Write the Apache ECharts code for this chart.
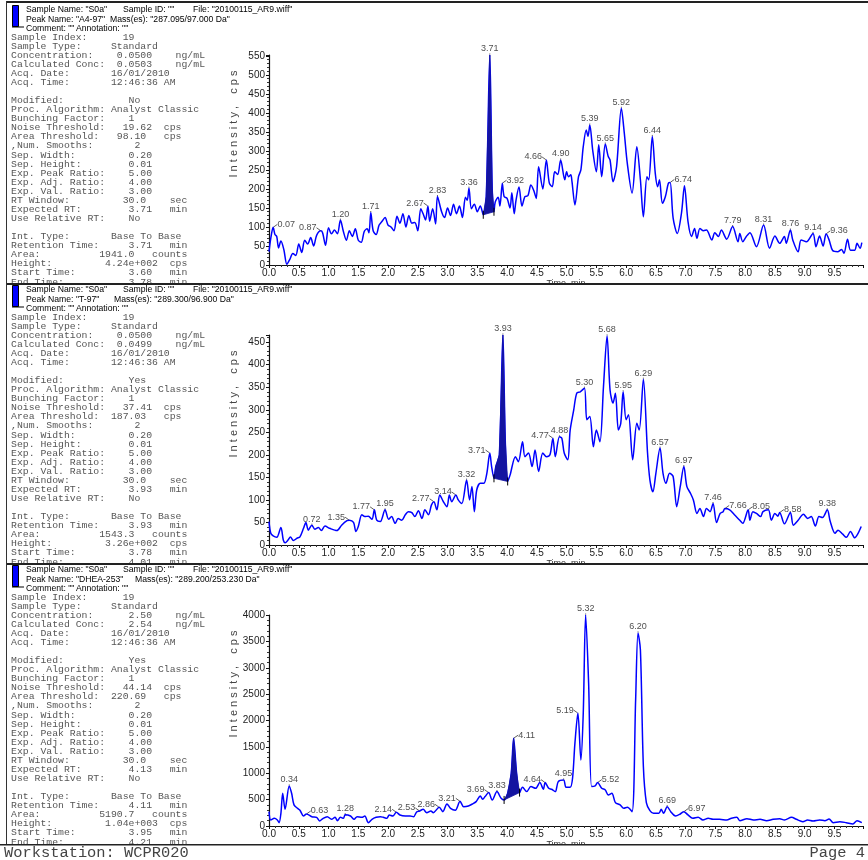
<!DOCTYPE html>
<html>
<head>
<meta charset="utf-8">
<script src="https://cdn.jsdelivr.net/npm/echarts@6/dist/echarts.min.js"></script>
<style>
  html, body { margin: 0; padding: 0; background: #fff; }
  #report { width: 868px; height: 860px; }
</style>
</head>
<body>
<div id="report"></div>
<script>
// ---- A4-97 (287.095/97.000 Da) ----
const a497Time = [0.00,0.03,0.07,0.10,0.13,0.16,0.20,0.25,0.30,0.35,0.40,0.45,0.50,0.55,0.60,0.65,0.70,0.75,0.80,0.87,0.90,0.95,1.00,1.05,1.10,1.15,1.20,1.25,1.30,1.35,1.40,1.45,1.50,1.55,1.60,1.65,1.68,1.71,1.75,1.80,1.85,1.90,1.95,2.00,2.05,2.10,2.15,2.20,2.25,2.30,2.35,2.40,2.45,2.50,2.55,2.60,2.63,2.67,2.70,2.75,2.80,2.83,2.90,2.95,3.00,3.05,3.10,3.15,3.20,3.25,3.30,3.33,3.36,3.40,3.45,3.50,3.55,3.60,3.65,3.71,3.75,3.78,3.80,3.85,3.88,3.92,3.95,4.00,4.05,4.08,4.12,4.15,4.20,4.25,4.30,4.35,4.40,4.45,4.49,4.53,4.60,4.66,4.71,4.76,4.80,4.85,4.90,4.97,5.00,5.03,5.07,5.09,5.14,5.20,5.24,5.28,5.33,5.36,5.39,5.44,5.50,5.54,5.59,5.65,5.70,5.73,5.78,5.84,5.92,5.97,6.02,6.10,6.18,6.24,6.29,6.35,6.38,6.44,6.49,6.53,6.56,6.61,6.66,6.71,6.74,6.79,6.86,6.93,6.98,7.04,7.10,7.15,7.19,7.24,7.30,7.35,7.44,7.49,7.55,7.60,7.69,7.79,7.88,7.91,7.96,8.02,8.08,8.19,8.31,8.41,8.50,8.58,8.66,8.69,8.76,8.80,8.89,8.94,9.03,9.14,9.19,9.25,9.31,9.36,9.41,9.47,9.56,9.62,9.66,9.72,9.77,9.84,9.88,9.93,9.96];
const a497Cps = [35,70,99,80,75,45,63,40,2,15,30,25,55,33,65,55,72,50,78,90,85,52,98,82,92,82,118,88,65,90,75,95,65,60,88,95,85,138,90,80,105,115,125,105,100,90,128,110,135,100,130,110,112,90,148,130,118,155,115,148,108,180,140,125,150,130,160,135,155,125,178,170,202,148,160,140,155,132,180,552,200,140,165,178,155,215,180,175,150,190,135,170,205,155,180,182,210,195,175,258,200,276,215,206,245,238,276,224,245,232,237,220,158,232,250,311,355,338,368,300,245,316,232,318,285,276,219,259,412,346,267,189,311,224,127,232,224,338,241,206,224,162,180,215,217,123,83,136,208,114,75,96,70,96,90,92,66,85,75,92,68,101,61,83,61,75,85,48,105,44,76,57,75,57,92,66,35,66,61,83,48,76,50,82,66,38,35,41,31,68,39,39,57,44,59];
const a497Peaks = [0.07,0.87,1.20,1.71,2.67,2.83,3.36,3.71,3.92,4.66,4.90,5.39,5.65,5.92,6.44,6.74,7.79,8.31,8.76,9.14,9.36];
const a497Window = [3.60, 3.78];

// ---- T-97 (289.300/96.900 Da) ----
const t97Time = [0.00,0.03,0.07,0.13,0.20,0.24,0.27,0.32,0.36,0.41,0.47,0.52,0.58,0.62,0.66,0.72,0.77,0.83,0.88,0.94,1.02,1.14,1.22,1.31,1.35,1.42,1.46,1.50,1.56,1.61,1.67,1.73,1.77,1.81,1.87,1.95,2.01,2.06,2.12,2.17,2.23,2.29,2.34,2.40,2.45,2.51,2.57,2.62,2.68,2.73,2.77,2.82,2.87,2.93,2.99,3.03,3.07,3.14,3.18,3.24,3.32,3.37,3.41,3.45,3.49,3.55,3.61,3.66,3.71,3.74,3.78,3.81,3.87,3.93,3.97,4.01,4.05,4.14,4.19,4.26,4.30,4.36,4.42,4.47,4.53,4.60,4.66,4.72,4.77,4.81,4.88,4.92,4.96,5.02,5.06,5.12,5.17,5.23,5.30,5.34,5.39,5.45,5.50,5.56,5.62,5.68,5.73,5.78,5.82,5.87,5.91,5.95,6.00,6.04,6.11,6.18,6.22,6.29,6.36,6.40,6.45,6.50,6.57,6.62,6.67,6.73,6.79,6.85,6.91,6.97,7.02,7.08,7.13,7.19,7.24,7.30,7.35,7.41,7.46,7.52,7.58,7.63,7.66,7.74,7.82,7.91,7.96,8.05,8.08,8.13,8.19,8.26,8.30,8.39,8.44,8.50,8.55,8.58,8.66,8.76,8.81,8.89,8.98,9.05,9.11,9.18,9.24,9.30,9.38,9.43,9.51,9.56,9.64,9.70,9.77,9.84,9.89,9.95];
const t97Cps = [52,26,20,17,39,11,5,11,18,10,15,18,37,50,33,44,35,39,32,42,37,32,44,54,55,50,30,41,67,63,64,57,78,55,52,78,57,63,48,59,55,67,74,72,63,76,59,78,67,89,96,78,111,96,85,111,96,111,100,92,144,100,130,74,122,137,137,159,204,174,148,174,200,466,230,141,155,196,185,229,196,204,174,211,163,204,196,200,237,196,240,237,204,189,255,300,337,340,348,278,285,218,255,229,352,464,344,315,337,255,270,340,278,289,189,270,255,368,204,144,118,159,215,159,137,159,152,85,130,174,130,115,100,70,81,63,81,74,92,50,70,74,81,78,67,55,48,78,55,74,70,63,74,78,55,70,64,72,47,72,44,55,68,59,63,42,63,61,78,52,26,33,24,17,30,16,24,41];
const t97Peaks = [0.72,1.35,1.77,1.95,2.77,3.14,3.32,3.71,3.93,4.77,4.88,5.30,5.68,5.95,6.29,6.57,6.97,7.46,7.66,8.05,8.58,9.38];
const t97Window = [3.78, 4.01];

// ---- DHEA-253 (289.200/253.230 Da) ----
const dheaTime = [0.00,0.03,0.09,0.14,0.17,0.20,0.23,0.27,0.34,0.38,0.42,0.48,0.52,0.58,0.63,0.72,0.80,0.85,0.91,0.98,1.05,1.11,1.15,1.20,1.25,1.28,1.37,1.43,1.48,1.56,1.61,1.67,1.73,1.80,1.87,1.92,1.98,2.02,2.08,2.14,2.20,2.29,2.37,2.43,2.48,2.53,2.59,2.65,2.72,2.76,2.86,2.92,2.99,3.05,3.13,3.21,3.27,3.35,3.42,3.48,3.55,3.59,3.63,3.69,3.75,3.83,3.90,3.95,4.01,4.07,4.11,4.16,4.21,4.26,4.33,4.40,4.48,4.55,4.61,4.64,4.70,4.75,4.81,4.86,4.95,4.99,5.06,5.10,5.14,5.19,5.24,5.28,5.32,5.37,5.42,5.48,5.52,5.59,5.65,5.70,5.76,5.82,5.90,5.96,6.02,6.10,6.16,6.20,6.24,6.29,6.34,6.40,6.46,6.55,6.59,6.63,6.69,6.75,6.83,6.91,6.97,7.04,7.12,7.21,7.29,7.38,7.46,7.57,7.69,7.77,7.86,7.91,8.03,8.14,8.25,8.36,8.47,8.58,8.66,8.78,8.86,8.97,9.05,9.14,9.25,9.34,9.41,9.48,9.59,9.70,9.81,9.88,9.96];
const dheaCps = [272,114,146,114,63,240,620,316,760,620,400,335,300,190,228,177,165,95,146,177,127,165,101,165,146,215,190,127,177,165,190,63,127,165,177,165,146,209,190,260,209,190,190,177,266,285,316,253,285,253,354,272,418,335,300,468,367,380,418,462,570,506,557,633,494,652,525,494,620,1000,1665,1000,633,734,652,747,715,823,696,823,715,696,652,842,873,734,734,905,1570,2140,1253,2140,4000,2710,747,760,823,715,684,589,620,443,399,335,354,272,2393,3660,3340,1127,443,291,240,240,316,240,367,272,190,228,272,209,146,165,114,146,127,127,114,146,165,101,139,114,127,101,127,139,114,165,127,82,114,95,114,101,133,63,82,63,38,101,63];
const dheaPeaks = [0.34,0.63,1.28,2.14,2.53,2.86,3.21,3.69,3.83,4.11,4.64,4.95,5.19,5.32,5.52,6.20,6.69,6.97];
const dheaWindow = [3.95, 4.21];

// Axis ranges and tick spacing
const timeMax = 9.98;
const yMax = [552, 466, 4000];
const yStep = [50, 50, 500];

// Peak labels drawn beside their apex with a short leader
const leftTags = [[0.87, 2.67, 4.66], [1.35, 1.77, 2.77, 3.14, 3.71, 4.77], [2.14, 2.53, 2.86, 3.21, 3.69, 4.64, 5.19]];
const rightTags = [[0.07, 3.92, 6.74, 9.36], [7.66, 8.05, 8.58], [0.63, 4.11, 5.52, 6.97]];

// Report text blocks
const headers = [
  { peak: 'Peak Name: "A4-97"', mass: 'Mass(es): "287.095/97.000 Da"', massX: 110 },
  { peak: 'Peak Name: "T-97"', mass: 'Mass(es): "289.300/96.900 Da"', massX: 114 },
  { peak: 'Peak Name: "DHEA-253"', mass: 'Mass(es): "289.200/253.230 Da"', massX: 135 }
];
const details = [
  { conc: ['0.0500', '0.0503'], concCol: 18, modified: 'No', noise: '19.62', area: ['98.10', 18],
    expRT: '3.71', rt: '3.71', areaCounts: '1941.0', height: '4.24e+002', start: '3.60', end: '3.78' },
  { conc: ['0.0500', '0.0499'], concCol: 18, modified: 'Yes', noise: '37.41', area: ['187.03', 17],
    expRT: '3.93', rt: '3.93', areaCounts: '1543.3', height: '3.26e+002', start: '3.78', end: '4.01' },
  { conc: ['2.50', '2.54'], concCol: 20, modified: 'Yes', noise: '44.14', area: ['220.69', 17],
    expRT: '4.13', rt: '4.11', areaCounts: '5190.7', height: '1.04e+003', start: '3.95', end: '4.21' }
];

function row(label, parts) {
  let s = label;
  (parts || []).forEach(([col, txt]) => {
    while (s.length < col) s += ' ';
    s += txt;
  });
  return s;
}

function bodyText(d) {
  return [
    row('Sample Index:', [[19, '19']]),
    row('Sample Type:', [[17, 'Standard']]),
    row('Concentration:', [[d.concCol, d.conc[0]], [28, 'ng/mL']]),
    row('Calculated Conc:', [[d.concCol, d.conc[1]], [28, 'ng/mL']]),
    row('Acq. Date:', [[17, '16/01/2010']]),
    row('Acq. Time:', [[17, '12:46:36 AM']]),
    '',
    row('Modified:', [[20, d.modified]]),
    row('Proc. Algorithm:', [[17, 'Analyst Classic']]),
    row('Bunching Factor:', [[20, '1']]),
    row('Noise Threshold:', [[19, d.noise], [26, 'cps']]),
    row('Area Threshold:', [[d.area[1], d.area[0]], [26, 'cps']]),
    row(',Num. Smooths:', [[21, '2']]),
    row('Sep. Width:', [[20, '0.20']]),
    row('Sep. Height:', [[20, '0.01']]),
    row('Exp. Peak Ratio:', [[20, '5.00']]),
    row('Exp. Adj. Ratio:', [[20, '4.00']]),
    row('Exp. Val. Ratio:', [[20, '3.00']]),
    row('RT Window:', [[19, '30.0'], [27, 'sec']]),
    row('Expected RT:', [[20, d.expRT], [27, 'min']]),
    row('Use Relative RT:', [[20, 'No']]),
    '',
    row('Int. Type:', [[17, 'Base To Base']]),
    row('Retention Time:', [[20, d.rt], [27, 'min']]),
    row('Area:', [[15, d.areaCounts], [24, 'counts']]),
    row('Height:', [[16, d.height], [27, 'cps']]),
    row('Start Time:', [[20, d.start], [27, 'min']]),
    row('End Time:', [[20, d.end], [27, 'min']])
  ].join('\n');
}

const traces = [
  { time: a497Time, cps: a497Cps, peaks: a497Peaks, win: a497Window },
  { time: t97Time, cps: t97Cps, peaks: t97Peaks, win: t97Window },
  { time: dheaTime, cps: dheaCps, peaks: dheaPeaks, win: dheaWindow }
];

const PANEL_H = 280;
const gridTop = [55, 335, 615];
const gridHeight = [210, 210, 211];
const SANS = '"Liberation Sans", Arial, sans-serif';
const MONO = '"Liberation Mono", "Courier New", monospace';

const grids = [], xAxes = [], yAxes = [], series = [], graphics = [];

traces.forEach((tr, i) => {
  const top = i * PANEL_H;
  grids.push({ left: 269, width: 594, top: gridTop[i], height: gridHeight[i], outerBoundsMode: 'none', containLabel: false });

  xAxes.push({
    type: 'value', gridIndex: i, min: 0, max: timeMax, interval: 0.5,
    axisLine: { onZero: false, lineStyle: { color: '#111', width: 1 } },
    axisTick: { length: 3, lineStyle: { color: '#111' } },
    minorTick: { show: true, splitNumber: 5, length: 2, lineStyle: { color: '#333' } },
    splitLine: { show: false },
    axisLabel: {
      margin: 3, fontSize: 10, color: '#222', fontFamily: SANS,
      formatter: v => Math.abs(v * 2 - Math.round(v * 2)) < 1e-6 ? v.toFixed(1) : ''
    },
    name: 'Time, min', nameLocation: 'middle', nameGap: 13,
    nameTextStyle: { fontSize: 9, color: '#333', fontFamily: SANS }
  });

  yAxes.push({
    type: 'value', gridIndex: i, min: 0, max: yMax[i], interval: yStep[i],
    axisLine: { show: true, lineStyle: { color: '#111', width: 1.2 } },
    axisTick: { show: true, length: 3, lineStyle: { color: '#111' } },
    minorTick: { show: true, splitNumber: 5, length: 2, lineStyle: { color: '#333' } },
    splitLine: { show: false },
    axisLabel: {
      margin: 4, fontSize: 10, color: '#222', fontFamily: SANS,
      formatter: v => (v % yStep[i] === 0 ? String(v) : '')
    }
  });

  // chromatogram trace
  const pts = tr.time.map((t, k) => [t, tr.cps[k]]);
  series.push({
    type: 'line', xAxisIndex: i, yAxisIndex: i, data: pts, symbol: 'none', smooth: 0.3,
    lineStyle: { color: '#0000ff', width: 1.5 }, z: 3, silent: true
  });

  // integrated peak region between start and end times, closed by its baseline
  const win = tr.win;
  const peakPts = pts.filter(p => p[0] >= win[0] - 1e-9 && p[0] <= win[1] + 1e-9);
  series.push({
    type: 'custom', xAxisIndex: i, yAxisIndex: i, coordinateSystem: 'cartesian2d',
    data: [[win[0], peakPts[0][1]]], z: 4, silent: true,
    renderItem: (params, api) => {
      const poly = peakPts.map(p => api.coord(p));
      const a = poly[0], b = poly[poly.length - 1];
      return {
        type: 'group',
        children: [
          { type: 'polygon', shape: { points: poly }, style: { fill: '#1414a0', stroke: '#1414a0', lineWidth: 0.8 } },
          { type: 'line', shape: { x1: a[0], y1: a[1] - 4, x2: a[0], y2: a[1] + 4 }, style: { stroke: '#000', lineWidth: 1 } },
          { type: 'line', shape: { x1: b[0], y1: b[1] - 4, x2: b[0], y2: b[1] + 4 }, style: { stroke: '#000', lineWidth: 1 } }
        ]
      };
    }
  });

  // apex retention-time labels
  const side = t => leftTags[i].includes(t) ? 'l' : rightTags[i].includes(t) ? 'r' : 't';
  const labelData = tr.peaks.map(t => {
    const k = tr.time.findIndex(x => Math.abs(x - t) < 1e-9);
    return [t, tr.cps[k]];
  });
  series.push({
    type: 'scatter', xAxisIndex: i, yAxisIndex: i, data: labelData, symbolSize: 1,
    itemStyle: { color: 'rgba(0,0,0,0)' }, z: 5, silent: true,
    label: {
      show: true, position: 'top', distance: 1, fontSize: 9, color: '#222', fontFamily: SANS,
      formatter: p => p.value[0].toFixed(2)
    },
    labelLayout: params => {
      const s = side(tr.peaks[params.dataIndex]);
      if (s === 'l') return { dx: -13, dy: 3 };
      if (s === 'r') return { dx: 13, dy: 3 };
      return {};
    },
    labelLine: { show: true, length2: 0, lineStyle: { color: '#333', width: 0.8 } }
  });

  // y axis title
  graphics.push({
    type: 'text', x: 234, y: top + 124, rotation: Math.PI / 2, z: 50,
    style: { text: 'I n t e n s i t y ,    c p s', font: '11px ' + SANS, fill: '#444', align: 'center', verticalAlign: 'middle' }
  });

  // left settings block
  graphics.push({
    type: 'text', x: 11, y: top + 32.5, z: 50,
    style: { text: bodyText(details[i]), font: '9.8px ' + MONO, fill: '#555', lineHeight: 9.07, verticalAlign: 'top' }
  });

  // panel rule above the header (white band keeps the previous panel from running into it)
  const ruleY = top + (i === 0 ? 1 : 3);
  if (i > 0) graphics.push({ type: 'rect', shape: { x: 0, y: ruleY + 1, width: 868, height: 4 }, style: { fill: '#fff' }, z: 60 });
  graphics.push({ type: 'rect', shape: { x: 6, y: ruleY, width: 862, height: 2 }, style: { fill: '#222' }, z: 61 });

  // header
  const hy = top + 4;
  const h = headers[i];
  graphics.push({ type: 'rect', shape: { x: 12.5, y: hy + 1.5, width: 6, height: 21 }, style: { fill: '#0000ff', stroke: '#000', lineWidth: 1 }, z: 62 });
  graphics.push({ type: 'line', shape: { x1: 12, y1: hy + 23, x2: 24, y2: hy + 23 }, style: { stroke: '#000', lineWidth: 1 }, z: 62 });
  [
    ['Sample Name: "S0a"', 26, 5], ['Sample ID: ""', 123, 5], ['File: "20100115_AR9.wiff"', 193, 5],
    [h.peak, 26, 15], [h.mass, h.massX, 15],
    ['Comment: ""', 26, 24], ['Annotation: ""', 76, 24]
  ].forEach(([txt, x, dy]) => {
    graphics.push({
      type: 'text', x, y: hy + dy, z: 63, scaleX: 0.9,
      style: { text: txt, font: '9.6px ' + SANS, fill: '#000', verticalAlign: 'middle' }
    });
  });
});

// left margin rule
graphics.push({ type: 'rect', shape: { x: 6, y: 1, width: 1, height: 844 }, style: { fill: '#333' }, z: 61 });
// footer
graphics.push({ type: 'rect', shape: { x: 0, y: 845, width: 868, height: 15 }, style: { fill: '#fff' }, z: 60 });
graphics.push({ type: 'rect', shape: { x: 0, y: 844, width: 868, height: 1.5 }, style: { fill: '#222' }, z: 61 });
graphics.push({ type: 'text', x: 4, y: 853, z: 62, style: { text: 'Workstation: WCPR020', font: '15.4px ' + MONO, fill: '#444', verticalAlign: 'middle' } });
graphics.push({ type: 'text', x: 865, y: 853, z: 62, style: { text: 'Page 4', font: '15.4px ' + MONO, fill: '#444', align: 'right', verticalAlign: 'middle' } });

const chart = echarts.init(document.getElementById('report'), null, { renderer: 'canvas' });
chart.setOption({
  animation: false,
  backgroundColor: '#fff',
  grid: grids,
  xAxis: xAxes,
  yAxis: yAxes,
  series: series,
  graphic: graphics
});
</script>
</body>
</html>
